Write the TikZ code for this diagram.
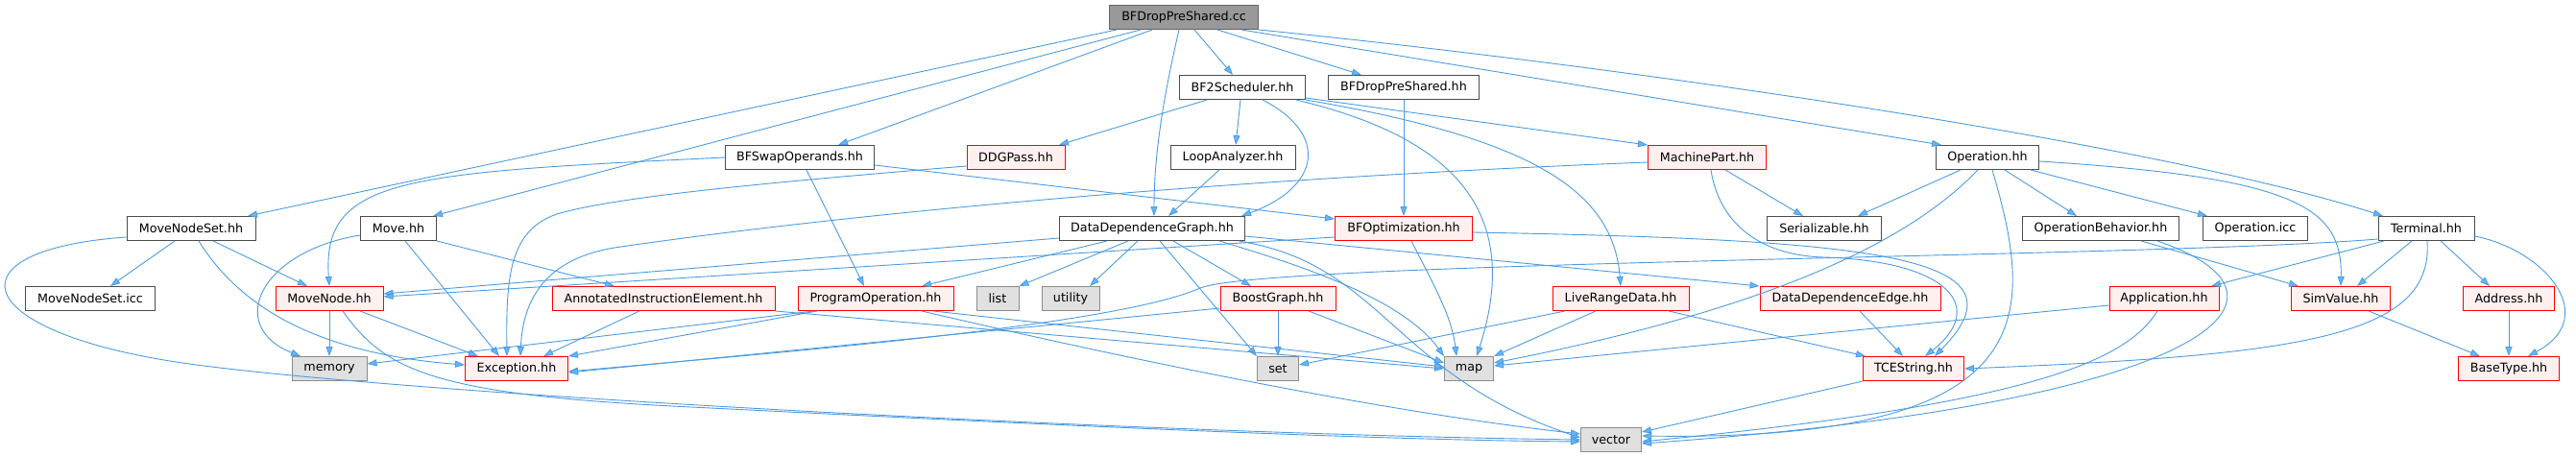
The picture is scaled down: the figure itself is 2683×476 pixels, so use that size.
\documentclass[tikz,border=0pt]{standalone}
\usepackage{fontspec}
\setmainfont{DejaVu Sans}
\usetikzlibrary{arrows.meta}
\definecolor{edgeblue}{HTML}{4C9BE0}
\definecolor{tipblue}{HTML}{63B8FF}
\definecolor{redfill}{HTML}{FFF0F0}
\definecolor{sysfill}{HTML}{E0E0E0}
\definecolor{rootfill}{HTML}{999999}

\begin{document}
\begin{tikzpicture}[x=1pt,y=-1pt,
  hdr/.style={draw=black!70, fill=white, line width=1pt, minimum height=25pt,
    inner xsep=2pt, inner ysep=0pt, font=\fontsize{12.7}{15}\selectfont},
  redhdr/.style={hdr, draw=red, fill=redfill},
  syshdr/.style={hdr, draw=black!45, fill=sysfill},
  roothdr/.style={hdr, draw=black!60, fill=rootfill},
  dep/.style={draw=edgeblue, line width=0.9pt, -{Triangle[length=10pt,width=7pt,fill=tipblue]}}]
  \path[fill=white, use as bounding box] (0,0) rectangle (2683,476);

  \node[roothdr, minimum width=155pt] (root) at (1233,18) {BFDropPreShared.cc};
  \node[hdr, minimum width=131pt] (bf2) at (1294,91) {BF2Scheduler.hh};
  \node[hdr, minimum width=157pt] (bfdh) at (1462,91) {BFDropPreShared.hh};
  \node[hdr, minimum width=155pt] (swap) at (833,164) {BFSwapOperands.hh};
  \node[redhdr, minimum width=102pt] (ddgpass) at (1058,164) {DDGPass.hh};
  \node[hdr, minimum width=130pt] (loop) at (1284,164) {LoopAnalyzer.hh};
  \node[redhdr, minimum width=123pt] (mpart) at (1778,164) {MachinePart.hh};
  \node[hdr, minimum width=107pt] (op) at (2070,164) {Operation.hh};
  \node[hdr, minimum width=134pt] (mns) at (199,238) {MoveNodeSet.hh};
  \node[hdr, minimum width=79pt] (move) at (415,238) {Move.hh};
  \node[hdr, minimum width=193pt] (ddg) at (1200,238) {DataDependenceGraph.hh};
  \node[redhdr, minimum width=143pt] (bfopt) at (1462,238) {BFOptimization.hh};
  \node[hdr, minimum width=119pt] (ser) at (1900,238) {Serializable.hh};
  \node[hdr, minimum width=163pt] (opbeh) at (2188,238) {OperationBehavior.hh};
  \node[hdr, minimum width=109pt] (opicc) at (2349,238) {Operation.icc};
  \node[hdr, minimum width=100pt] (term) at (2527,238) {Terminal.hh};
  \node[hdr, minimum width=135pt] (mnsicc) at (94,311) {MoveNodeSet.icc};
  \node[redhdr, minimum width=112pt] (mnode) at (343,311) {MoveNode.hh};
  \node[redhdr, minimum width=232pt] (aie) at (691,311) {AnnotatedInstructionElement.hh};
  \node[redhdr, minimum width=162pt] (progop) at (912,311) {ProgramOperation.hh};
  \node[syshdr, minimum width=44pt] (list) at (1039,311) {list};
  \node[syshdr, minimum width=60pt] (util) at (1115,311) {utility};
  \node[redhdr, minimum width=120pt] (boost) at (1331,311) {BoostGraph.hh};
  \node[redhdr, minimum width=142pt] (lrd) at (1688,311) {LiveRangeData.hh};
  \node[redhdr, minimum width=188pt] (dde) at (1927,311) {DataDependenceEdge.hh};
  \node[redhdr, minimum width=114pt] (app) at (2254,311) {Application.hh};
  \node[redhdr, minimum width=103pt] (simv) at (2438,311) {SimValue.hh};
  \node[redhdr, minimum width=95pt] (addr) at (2613,311) {Address.hh};
  \node[syshdr, minimum width=78pt] (mem) at (343,384) {memory};
  \node[redhdr, minimum width=107pt] (exc) at (538,384) {Exception.hh};
  \node[syshdr, minimum width=43pt] (set) at (1331,384) {set};
  \node[syshdr, minimum width=51pt] (map) at (1530,384) {map};
  \node[redhdr, minimum width=105pt] (tce) at (1993,384) {TCEString.hh};
  \node[redhdr, minimum width=105pt] (base) at (2613,384) {BaseType.hh};
  \node[syshdr, minimum width=63pt] (vec) at (1678,458) {vector};

  \draw[dep] ([xshift=-70pt]root.south) -- ([xshift=59pt]mns.north);
  \draw[dep] ([xshift=-45pt]root.south) -- ([xshift=36pt]move.north);
  \draw[dep] ([xshift=-33pt]root.south) -- ([xshift=40pt]swap.north);
  \draw[dep] ([xshift=-5pt]root.south) .. controls (1212,100) and (1202,160) .. ([xshift=2pt]ddg.north);
  \draw[dep] ([xshift=11pt]root.south) -- ([xshift=-10pt]bf2.north);
  \draw[dep] ([xshift=35pt]root.south) -- ([xshift=-44pt]bfdh.north);
  \draw[dep] ([xshift=60pt]root.south) -- ([xshift=-48pt]op.north);
  \draw[dep] (root.south east) .. controls (1700,70) and (2250,150) .. ([xshift=-45pt]term.north);

  \draw[dep] ([xshift=-37pt]bf2.south) -- ([xshift=45pt]ddgpass.north);
  \draw[dep] ([xshift=-2pt]bf2.south) -- ([xshift=3pt]loop.north);
  \draw[dep] ([xshift=21pt]bf2.south) .. controls (1385,140) and (1375,195) .. ([xshift=93pt]ddg.north);
  \draw[dep] ([xshift=56pt]bf2.south) .. controls (1500,140) and (1590,210) .. ([xshift=8pt]map.north);
  \draw[dep] ([yshift=-11pt]bf2.east) -- (mpart.north west);
  \draw[dep] (bf2.south east) .. controls (1600,145) and (1680,200) .. (lrd.north);
  \draw[dep] (bfdh.south) -- (bfopt.north);
  \draw[dep] ([xshift=-14pt]loop.south) -- ([xshift=17pt]ddg.north);

  \draw[dep] ([yshift=-8pt]swap.east) -- ([yshift=10pt]bfopt.west);
  \draw[dep] ([xshift=7pt]swap.south) -- ([xshift=-12pt]progop.north);
  \draw[dep] (swap.west) .. controls (420,180) and (335,185) .. (mnode.north);
  \draw[dep] ([yshift=-9pt]ddgpass.west) .. controls (800,190) and (640,205) .. (580,223)
    .. controls (530,240) and (527,290) .. ([xshift=-10pt]exc.north);

  \draw[dep] ([xshift=19pt]mpart.south) -- ([xshift=-22pt]ser.north);
  \draw[dep] ([xshift=4pt]mpart.south) .. controls (1790,230) and (1830,266) .. (1900,268)
    .. controls (2030,272) and (2070,320) .. ([xshift=12pt]tce.north);
  \draw[dep] ([yshift=-5pt]mpart.west) .. controls (1300,185) and (900,220) .. (640,258)
    .. controls (580,268) and (545,300) .. ([xshift=4pt]exc.north);

  \draw[dep] ([xshift=-28pt]op.south) -- ([xshift=35pt]ser.north);
  \draw[dep] ([xshift=18pt]op.south) -- ([xshift=-25pt]opbeh.north);
  \draw[dep] ([xshift=45pt]op.south) -- ([xshift=-50pt]opicc.north);
  \draw[dep] ([yshift=-4pt]op.east) .. controls (2390,185) and (2440,215) .. (simv.north);
  \draw[dep] ([xshift=-10pt]op.south) .. controls (1990,250) and (1850,320) .. ([yshift=6pt]map.east);
  \draw[dep] ([xshift=5pt]op.south) .. controls (2120,330) and (2130,460) .. ([yshift=4pt]vec.east);

  \draw[dep] ([xshift=-44pt]term.south) -- ([xshift=49pt]app.north);
  \draw[dep] ([xshift=-15pt]term.south) -- ([xshift=17pt]simv.north);
  \draw[dep] ([xshift=15pt]term.south) -- ([xshift=-20pt]addr.north);
  \draw[dep] ([yshift=-8pt]term.east) .. controls (2650,260) and (2710,330) .. ([xshift=20pt]base.north);
  \draw[dep] ([xshift=1pt]term.south) .. controls (2535,350) and (2400,370) .. (tce.east);
  \draw[dep] ([yshift=-11pt]term.west) .. controls (2250,268) and (1320,272) .. (1250,300)
    .. controls (1160,340) and (800,368) .. ([yshift=-3pt]exc.east);

  \draw[dep] ([yshift=-7pt]app.west) -- ([yshift=3pt]map.east);
  \draw[dep] ([xshift=-7pt]app.south) .. controls (2215,375) and (2120,420) .. ([yshift=-2pt]vec.east);
  \draw[dep] ([xshift=42pt]opbeh.south) -- ([xshift=-44pt]simv.north);
  \draw[dep] ([xshift=59pt]opbeh.south) .. controls (2420,310) and (2300,420) .. ([yshift=-4pt]vec.east);
  \draw[dep] ([xshift=29pt]simv.south) -- ([xshift=-30pt]base.north);
  \draw[dep] (addr.south) -- (base.north);
  \draw[dep] (tce.south west) -- ([yshift=8pt]vec.east);
  \draw[dep] ([xshift=10pt]dde.south) -- ([xshift=-11pt]tce.north);

  \draw[dep] ([xshift=50pt]lrd.south) -- ([xshift=-50pt]tce.north);
  \draw[dep] ([xshift=-26pt]lrd.south) -- (map.north east);
  \draw[dep] ([xshift=-58pt]lrd.south) -- ([yshift=4pt]set.east);
  \draw[dep] (boost.south) -- (set.north);
  \draw[dep] ([xshift=32pt]boost.south) -- ([yshift=6pt]map.west);
  \draw[dep] ([yshift=-10pt]boost.west) -- ([yshift=-4pt]exc.east);

  \draw[dep] ([yshift=-10pt]ddg.west) -- ([yshift=5pt]mnode.east);
  \draw[dep] ([xshift=-47pt]ddg.south) -- ([xshift=48pt]progop.north);
  \draw[dep] ([xshift=-25pt]ddg.south) -- (list.north east);
  \draw[dep] ([xshift=-15pt]ddg.south) -- ([xshift=20pt]util.north);
  \draw[dep] ([xshift=22pt]ddg.south) -- ([xshift=-28pt]boost.north);
  \draw[dep] ([xshift=8pt]ddg.south) -- (set.north west);
  \draw[dep] ([xshift=70pt]ddg.south) .. controls (1350,275) and (1460,310) .. (map.north west);
  \draw[dep] ([xshift=90pt]ddg.south) .. controls (1440,275) and (1450,390) .. ([yshift=2pt]vec.west);
  \draw[dep] ([yshift=-8pt]ddg.east) -- (dde.north west);

  \draw[dep] ([yshift=-9pt]bfopt.west) -- ([yshift=2pt]mnode.east);
  \draw[dep] ([xshift=8pt]bfopt.south) .. controls (1495,300) and (1512,330) .. ([xshift=-13pt]map.north);
  \draw[dep] ([yshift=-4pt]bfopt.east) .. controls (1950,250) and (2120,265) .. ([xshift=22pt]tce.north);

  \draw[dep] ([yshift=-7pt]move.west) .. controls (270,262) and (235,340) .. ([xshift=-30pt]mem.north);
  \draw[dep] ([xshift=7pt]move.south) -- ([xshift=-18pt]exc.north);
  \draw[dep] (move.south east) -- ([xshift=-51pt]aie.north);

  \draw[dep] ([xshift=-17pt]mns.south) -- ([xshift=21pt]mnsicc.north);
  \draw[dep] ([xshift=23pt]mns.south) -- ([xshift=-23pt]mnode.north);
  \draw[dep] ([xshift=8pt]mns.south) .. controls (250,320) and (330,368) .. ([yshift=4pt]exc.west);
  \draw[dep] ([yshift=-9pt]mns.west) .. controls (-55,260) and (-35,345) .. (190,378)
    .. controls (420,411) and (1200,452) .. (vec.west);

  \draw[dep] (mnode.south) -- (mem.north);
  \draw[dep] ([xshift=32pt]mnode.south) -- ([xshift=-40pt]exc.north);
  \draw[dep] ([xshift=14pt]mnode.south) .. controls (400,385) and (450,410) .. (700,423)
    .. controls (1000,438) and (1400,458) .. ([yshift=-2pt]vec.west);

  \draw[dep] ([xshift=-25pt]aie.south) -- ([xshift=28pt]exc.north);
  \draw[dep] (aie.south east) -- (map.west);
  \draw[dep] ([xshift=-61pt]progop.south) -- (exc.north east);
  \draw[dep] ([xshift=-64pt]progop.south) -- ([yshift=5pt]mem.east);
  \draw[dep] ([xshift=60pt]progop.south) -- ([yshift=2pt]map.west);
  \draw[dep] ([xshift=48pt]progop.south) .. controls (1200,380) and (1450,430) .. ([yshift=6pt]vec.west);
\end{tikzpicture}
\end{document}
